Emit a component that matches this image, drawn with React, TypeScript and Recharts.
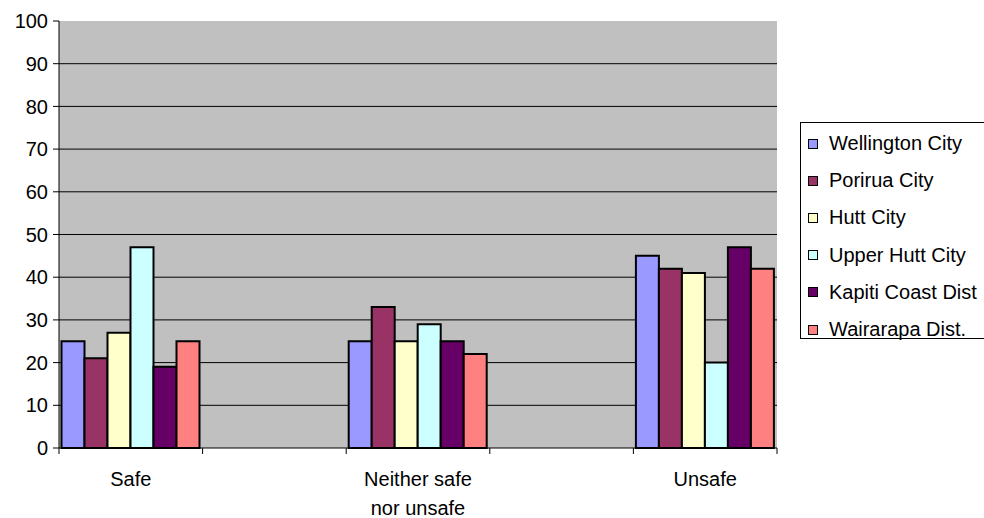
import React from "react";
import { BarChart, Bar, XAxis, YAxis, CartesianGrid } from "recharts";

const categories = ["Safe", "", "Neither safe\nnor unsafe", "", "Unsafe"];
const seriesNames = [
  "Wellington City",
  "Porirua City",
  "Hutt City",
  "Upper Hutt City",
  "Kapiti Coast Dist",
  "Wairarapa Dist.",
];
const wellington = [25, null, 25, null, 45];
const porirua = [21, null, 33, null, 42];
const hutt = [27, null, 25, null, 41];
const upperHutt = [47, null, 29, null, 20];
const kapiti = [19, null, 25, null, 47];
const wairarapa = [25, null, 22, null, 42];
const yTicks = [0, 10, 20, 30, 40, 50, 60, 70, 80, 90, 100];

const seriesValues = [wellington, porirua, hutt, upperHutt, kapiti, wairarapa];
const colors = ["#9999FF", "#993366", "#FFFFCC", "#CCFFFF", "#660066", "#FF8080"];

const data = categories.map((name, i) => {
  const row: Record<string, any> = { name };
  seriesNames.forEach((s, j) => {
    row[s] = seriesValues[j][i];
  });
  return row;
});

const W = 984;
const H = 518;
const LEFT = 59;
const RIGHT = 207;
const TOP = 21;
const BOTTOM = 70;
const band = (W - LEFT - RIGHT) / categories.length;
const axisY = H - BOTTOM;
const font = "'Liberation Sans', Arial, sans-serif";

// excel-style ticks sit on the band edges, not the centres
const CategoryTick = (props: any) => {
  const { payload, index } = props;
  const cx = payload.coordinate;
  const lines = String(payload.value).split("\n");
  return (
    <g>
      <line x1={cx - band / 2} x2={cx - band / 2} y1={axisY} y2={axisY + 6} stroke="#000" />
      {index === categories.length - 1 && (
        <line x1={cx + band / 2} x2={cx + band / 2} y1={axisY} y2={axisY + 6} stroke="#000" />
      )}
      <text x={cx} y={axisY + 38} textAnchor="middle" fontSize={20} fill="#000" fontFamily={font}>
        {lines.map((l, k) => (
          <tspan key={k} x={cx} dy={k === 0 ? 0 : 29}>
            {l}
          </tspan>
        ))}
      </text>
    </g>
  );
};

const LegendBox = () => (
  <div
    style={{
      position: "absolute",
      left: 800,
      top: 122,
      width: 200,
      height: 217,
      boxSizing: "border-box",
      border: "1px solid #000",
      background: "#fff",
      fontFamily: font,
      fontSize: 20,
      paddingTop: 2,
    }}
  >
    {seriesNames.map((s, i) => (
      <div key={s} style={{ display: "flex", alignItems: "center", height: 37.2 }}>
        <span
          style={{
            display: "inline-block",
            width: 8,
            height: 8,
            background: colors[i],
            border: "1.5px solid #000",
            marginLeft: 7,
            marginRight: 11,
          }}
        />
        <span style={{ whiteSpace: "nowrap" }}>{s}</span>
      </div>
    ))}
  </div>
);

export default function App() {
  return (
    <div
      style={{
        position: "absolute",
        left: 0,
        top: 0,
        width: W,
        height: H,
        background: "#fff",
        overflow: "hidden",
      }}
    >
      <BarChart
        width={W}
        height={H}
        data={data}
        margin={{ top: TOP, right: RIGHT, left: 0, bottom: 0 }}
        barGap={0}
        barCategoryGap={2.5}
      >
        <CartesianGrid
          horizontal={true}
          vertical={false}
          stroke="#000"
          fill="#C0C0C0"
          fillOpacity={1}
          horizontalValues={[10, 20, 30, 40, 50, 60, 70, 80, 90]}
        />
        <XAxis
          dataKey="name"
          height={BOTTOM}
          interval={0}
          tickLine={false}
          axisLine={{ stroke: "#000" }}
          tick={<CategoryTick />}
        />
        <XAxis
          xAxisId="top"
          dataKey="name"
          orientation="top"
          height={0}
          tick={false}
          tickLine={false}
          axisLine={{ stroke: "#808080", strokeWidth: 2 }}
        />
        <YAxis
          width={LEFT}
          domain={[0, 100]}
          ticks={yTicks}
          interval={0}
          tickSize={6}
          tickMargin={5}
          axisLine={{ stroke: "#000" }}
          tickLine={{ stroke: "#000" }}
          tick={{ fill: "#000", fontSize: 20, fontFamily: font }}
        />
        <YAxis
          yAxisId="right"
          orientation="right"
          width={0}
          domain={[0, 100]}
          tick={false}
          tickLine={false}
          axisLine={{ stroke: "#808080", strokeWidth: 2 }}
        />
        {seriesNames.map((s, i) => (
          <Bar
            key={s}
            dataKey={s}
            fill={colors[i]}
            stroke="#000"
            strokeWidth={2}
            isAnimationActive={false}
          />
        ))}
      </BarChart>
      <LegendBox />
    </div>
  );
}
